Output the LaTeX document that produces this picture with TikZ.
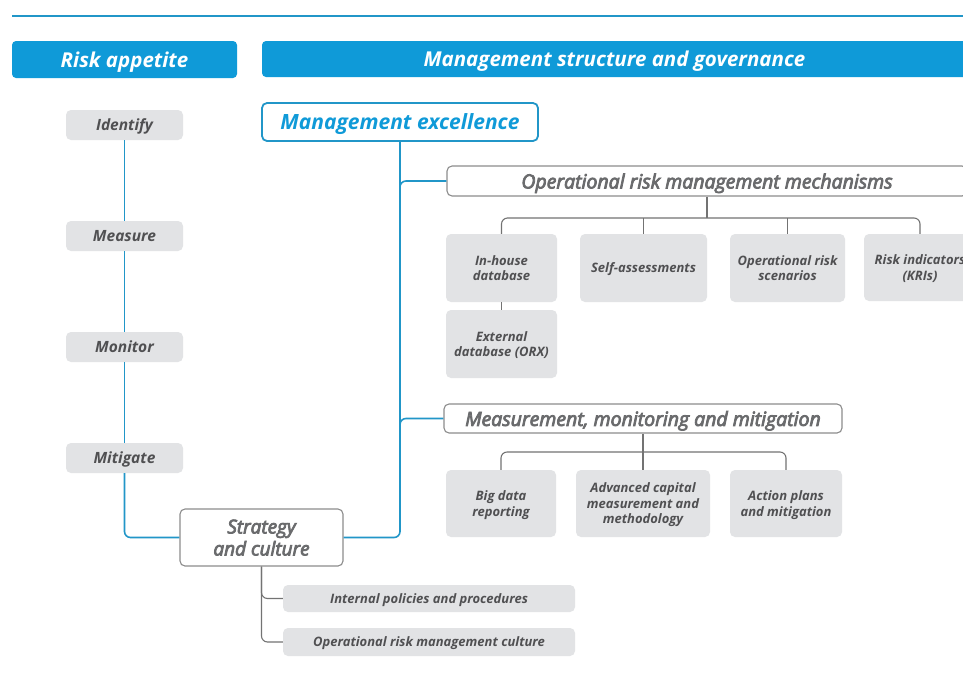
\documentclass[tikz,border=0pt]{standalone}
\usepackage{fontspec}
\setmainfont{Open Sans}
\newfontfamily\medfont{Open Sans}[FakeBold=4, ItalicFeatures={FakeBold=4}]
\usetikzlibrary{calc}
\definecolor{bbl}{HTML}{0F9AD8}
\definecolor{bline}{HTML}{2196C8}
\definecolor{gfill}{HTML}{E2E3E5}
\definecolor{gtxt}{HTML}{505052}
\definecolor{wtxt}{HTML}{6A6B6D}
\definecolor{gline}{HTML}{737373}
\definecolor{gborder}{HTML}{8C8C8C}
\begin{document}
\begin{tikzpicture}[x=1pt,y=-1pt,
 banner/.style={fill=bbl, rounded corners=4pt, text=white, font=\fontsize{20.5}{24}\selectfont\bfseries\itshape, inner sep=0pt, text depth=0pt},
 graybox/.style={fill=gfill, rounded corners=5pt, text=gtxt, font=\fontsize{13}{15.5}\selectfont\bfseries\itshape, align=center, inner sep=0pt, text depth=0pt},
 sidebox/.style={graybox, minimum width=117pt, minimum height=30pt, font=\fontsize{15.5}{18}\selectfont\bfseries\itshape},
 whitebox/.style={draw=gborder, line width=1.1pt, fill=white, rounded corners=5pt, text=wtxt, font=\fontsize{19.5}{22}\selectfont\medfont\itshape, align=center, inner sep=0pt, text depth=0pt},
 blueline/.style={draw=bline, line width=1.6pt},
 grayline/.style={draw=gline, line width=1.1pt},
]
\clip (0,0) rectangle (963,673);
\fill[white] (0,0) rectangle (963,673);
% top rule
\coordinate (rl) at (12,16);
\coordinate (rr) at (963,16);
\draw[blueline, line width=2pt] (rl) -- (rr);
% banners
\node[banner, minimum width=225pt, minimum height=37pt] (ra) at (124.5,59.5) {Risk appetite};
\node[banner, minimum width=705pt, minimum height=36pt] (msg) at (614.5,59) {Management structure and governance};
% left column
\node[sidebox] (id) at (124.5,125) {Identify};
\node[sidebox] (me) at (124.5,236) {Measure};
\node[sidebox] (mo) at (124.5,347) {Monitor};
\node[sidebox] (mi) at (124.5,458) {Mitigate};
% management excellence
\node[draw=bline, line width=1.8pt, fill=white, rounded corners=5pt, text=bbl, inner sep=0pt, text depth=0pt,
      font=\fontsize{21}{24}\selectfont\bfseries\itshape, minimum width=276pt, minimum height=38pt] (mex) at (400,122) {Management excellence};
% strategy and culture
\node[whitebox, minimum width=163pt, minimum height=57pt, font=\fontsize{19}{22}\selectfont\medfont\itshape] (sc) at (261.5,537.5) {Strategy\\and culture};
% operational risk management mechanisms
\node[whitebox, minimum width=520pt, minimum height=30pt] (orm) at (707,181) {Operational risk management mechanisms};
\node[graybox, minimum width=111pt, minimum height=68pt] (ih) at (501.5,268) {In-house\\database};
\node[graybox, minimum width=127pt, minimum height=68pt] (sa) at (643.5,268) {Self-assessments};
\node[graybox, minimum width=115pt, minimum height=68pt] (scn) at (787.5,268) {Operational risk\\scenarios};
\node[graybox, minimum width=112pt, minimum height=67pt] (kri) at (920,267.5) {Risk indicators\\(KRIs)};
\node[graybox, minimum width=111pt, minimum height=68pt] (ext) at (501.5,344) {External\\database (ORX)};
% measurement, monitoring and mitigation
\node[whitebox, minimum width=398pt, minimum height=29pt] (mmm) at (643,418.5) {Measurement, monitoring and mitigation};
\node[graybox, minimum width=110pt, minimum height=67pt] (bd) at (501,503.5) {Big data\\reporting};
\node[graybox, minimum width=134pt, minimum height=67pt] (ac) at (643,503.5) {Advanced capital\\measurement and\\methodology};
\node[graybox, minimum width=112pt, minimum height=67pt] (ap) at (786,503.5) {Action plans\\and mitigation};
% strategy children
\node[graybox, minimum width=292pt, minimum height=27pt] (ip) at (429,598.5) {Internal policies and procedures};
\node[graybox, minimum width=292pt, minimum height=28pt] (oc) at (429,642) {Operational risk management culture};
% blue connectors
\draw[blueline] (id) -- (me) -- (mo) -- (mi);
\draw[blueline, rounded corners=6pt] (mi.south) |- (sc.west);
\draw[blueline, rounded corners=6pt] (mex.south) |- (sc.east);
\draw[blueline, rounded corners=6pt] (orm.west) -| ($(orm.west -| mex.south)+(0,22)$);
\draw[blueline, rounded corners=6pt] (mmm.west) -| ($(mmm.west -| mex.south)+(0,22)$);
% gray connectors: mechanisms
\coordinate (mbar) at (0,218);
\draw[grayline] (orm.south) -- (orm.south |- mbar);
\draw[grayline, rounded corners=6pt] (ih.north) |- (orm.south |- mbar) -| (kri.north);
\draw[grayline] (sa.north) -- (sa.north |- mbar);
\draw[grayline] (scn.north) -- (scn.north |- mbar);
\draw[grayline] (ih) -- (ext);
% gray connectors: measurement
\coordinate (nbar) at (0,452);
\draw[grayline] (mmm.south) -- (ac.north);
\draw[grayline, rounded corners=6pt] (bd.north) |- (ac.north |- nbar) -| (ap.north);
% gray connectors: strategy
\draw[grayline, rounded corners=6pt] (sc.south) |- (ip.west);
\draw[grayline, rounded corners=6pt] (sc.south) |- (oc.west);
\end{tikzpicture}
\end{document}
